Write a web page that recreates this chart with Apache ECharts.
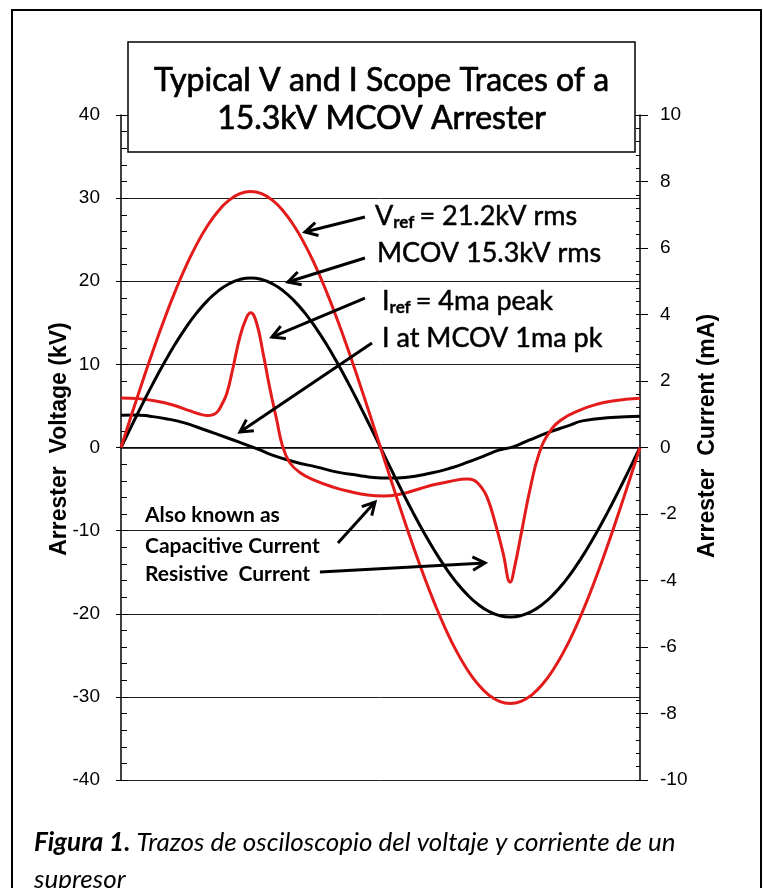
<!DOCTYPE html>
<html><head><meta charset="utf-8">
<script src="https://cdn.jsdelivr.net/npm/echarts@6/dist/echarts.min.js"></script>
<style>html,body{margin:0;padding:0;background:#fff}#c{width:763px;height:888px}</style>
</head><body><div id="c"></div>
<script>
// ---------- data ----------
// phase in degrees across one cycle
const vPhase = [0,7.5,15,22.5,30,37.5,45,52.5,60,67.5,75,82.5,90,97.5,105,112.5,120,127.5,135,142.5,150,157.5,165,172.5,180,187.5,195,202.5,210,217.5,225,232.5,240,247.5,255,262.5,270,277.5,285,292.5,300,307.5,315,322.5,330,337.5,345,352.5,360];
// Vref = 21.2 kV rms trace (kV, left axis)
const vRefKV = [0,4.02,7.97,11.79,15.4,18.75,21.78,24.44,26.67,28.46,29.75,30.54,30.8,30.54,29.75,28.46,26.67,24.44,21.78,18.75,15.4,11.79,7.97,4.02,0,-4.02,-7.97,-11.79,-15.4,-18.75,-21.78,-24.44,-26.67,-28.46,-29.75,-30.54,-30.8,-30.54,-29.75,-28.46,-26.67,-24.44,-21.78,-18.75,-15.4,-11.79,-7.97,-4.02,0];
// MCOV 15.3 kV rms trace (kV, left axis)
const mcovKV = [0,2.66,5.28,7.81,10.2,12.42,14.42,16.19,17.67,18.85,19.7,20.22,20.4,20.22,19.7,18.85,17.67,16.19,14.42,12.42,10.2,7.81,5.28,2.66,0,-2.66,-5.28,-7.81,-10.2,-12.42,-14.42,-16.19,-17.67,-18.85,-19.7,-20.22,-20.4,-20.22,-19.7,-18.85,-17.67,-16.19,-14.42,-12.42,-10.2,-7.81,-5.28,-2.66,0];
// Iref = 4 mA peak trace (mA, right axis)
const iRefPhase = [0,12,24,36,48,56,60,64,67,70,73.5,77.8,82.5,87,90,94,98.5,103,108,112,117,124,134,147,160,171,182,194,205,216,228,240,245,250,254,259,265,270,273,278,284,290,297,306,318,330,341,350,360];
const iRefMA   = [1.49,1.47,1.40,1.28,1.10,0.99,0.96,0.99,1.08,1.3,1.64,2.42,3.33,3.9,4.05,3.75,2.85,1.83,0.83,0.05,-0.45,-0.75,-0.98,-1.19,-1.34,-1.43,-1.46,-1.40,-1.27,-1.13,-1.02,-0.95,-0.99,-1.2,-1.5,-2.18,-3.17,-4.05,-3.6,-2.5,-1.2,-0.18,0.45,0.85,1.12,1.30,1.40,1.45,1.48];
// I at MCOV = 1 mA pk trace (mA, right axis)
const iMcovPhase = [0,10,20,32,44,55,68,82,95,105,120,136,150,165,175,186,197,216,230,240,252,262,272,283,297,310,320,340,360];
const iMcovMA    = [0.97,0.98,0.94,0.86,0.74,0.58,0.38,0.16,-0.05,-0.23,-0.43,-0.59,-0.74,-0.84,-0.9,-0.92,-0.9,-0.76,-0.6,-0.45,-0.25,-0.08,0.02,0.22,0.46,0.65,0.8,0.9,0.94];
// axis tick values
const voltTicks = [-40,-30,-20,-10,0,10,20,30,40];
const currTicks = [-10,-8,-6,-4,-2,0,2,4,6,8,10];

// texts
const titleLines = ['Typical V and I Scope Traces of a','15.3kV MCOV Arrester'];
const leftAxisTitle = 'Arrester  Voltage (kV)';
const rightAxisTitle = 'Arrester  Current (mA)';
const captionBold = 'Figura 1.';
const captionLine1 = ' Trazos de osciloscopio del voltaje y corriente de un';
const captionLine2 = 'supresor';

// annotation arrows in data space [phase deg, kV]: tail -> head
const arrows = [
  [[169.2,27.73],[127.6,25.92]],
  [[169.2,22.80],[115.8,19.91]],
  [[169.2,17.98],[104.7,13.29]],
  [[174.1,12.57],[82.5,1.86]],
  [[150.5,-11.49],[176.2,-6.56]],
  [[138.0,-14.98],[252.5,-13.89]]
];

const RED = '#e31b1b';
const BLACK = '#000';
const zip = (xs, ys) => xs.map((x, i) => [x, ys[i]]);

const chart = echarts.init(document.getElementById('c'), null, {renderer:'canvas'});

const tickFont = {fontFamily:'Liberation Sans', fontSize:19, color:'#000'};
const vStep = voltTicks[1]-voltTicks[0];
const cStep = currTicks[1]-currTicks[0];
const vMin = voltTicks[0], vMax = voltTicks[voltTicks.length-1];
const cMin = currTicks[0], cMax = currTicks[currTicks.length-1];

chart.setOption({
  animation:false,
  backgroundColor:'#fff',
  grid:{left:121, right:123, top:115, bottom:108, containLabel:false, outerBoundsMode:'none'},
  xAxis:{type:'value', min:0, max:360, axisLine:{show:true, lineStyle:{color:'#000', width:1.5}},
    axisTick:{show:false}, axisLabel:{show:false}, splitLine:{show:false}},
  yAxis:[
    {type:'value', position:'left', min:vMin, max:vMax, interval:vStep,
      axisLine:{show:true, lineStyle:{color:'#000', width:1.5}},
      axisTick:{show:true, inside:false, length:5, lineStyle:{color:'#000', width:1}},
      axisLabel:Object.assign({margin:21}, tickFont),
      splitLine:{show:true, lineStyle:{color:'#222', width:1}}},
    {type:'value', position:'left', offset:0, min:vMin, max:vMax, interval:vStep,
      axisLine:{show:false}, axisLabel:{show:false}, splitLine:{show:false},
      axisTick:{show:true, inside:true, length:7, lineStyle:{color:'#000', width:1}},
      minorTick:{show:true, splitNumber:5, length:6, lineStyle:{color:'#000', width:1}}},
    {type:'value', position:'right', min:cMin, max:cMax, interval:cStep,
      axisLine:{show:true, lineStyle:{color:'#000', width:1.5}},
      axisTick:{show:true, inside:false, length:8, lineStyle:{color:'#000', width:1}},
      axisLabel:Object.assign({margin:20}, tickFont),
      splitLine:{show:false}},
    {type:'value', position:'right', offset:0, min:cMin, max:cMax, interval:cStep,
      axisLine:{show:false}, axisLabel:{show:false}, splitLine:{show:false},
      axisTick:{show:true, inside:true, length:4, lineStyle:{color:'#000', width:1}},
      minorTick:{show:true, splitNumber:5, length:4, lineStyle:{color:'#000', width:1}}}
  ],
  series:[
    {type:'line', name:'I at MCOV', yAxisIndex:2, data:zip(iMcovPhase,iMcovMA), smooth:0.5, showSymbol:false,
      lineStyle:{color:BLACK, width:3}, z:3},
    {type:'line', name:'Iref', yAxisIndex:2, data:zip(iRefPhase,iRefMA), smooth:0.45, showSymbol:false,
      lineStyle:{color:RED, width:3}, z:4},
    {type:'line', name:'MCOV', yAxisIndex:0, data:zip(vPhase,mcovKV), smooth:true, showSymbol:false,
      lineStyle:{color:BLACK, width:3}, z:5},
    {type:'line', name:'Vref', yAxisIndex:0, data:zip(vPhase,vRefKV), smooth:true, showSymbol:false,
      lineStyle:{color:RED, width:3}, z:6}
  ]
});

// ---------- annotations ----------
const ctx = document.createElement('canvas').getContext('2d');
function textW(txt, font){ ctx.font = font; return ctx.measureText(txt).width; }
const g = [];
function txt(x, y, text, opt){
  opt = opt || {};
  const el = {type:'text', x:x, y:y, z:opt.z||60, silent:true, rotation:opt.rotation||0,
    style:{text:text, fill:'#000', font:opt.font, textAlign:opt.align||'left', textVerticalAlign:'middle'}};
  if (opt.thick) { el.style.stroke = '#000'; el.style.lineWidth = opt.thick; }
  g.push(el);
}
// frame
g.push({type:'rect', z:1, silent:true, shape:{x:12,y:10,width:749,height:930}, style:{fill:'transparent', stroke:'#000', lineWidth:2}});
// title box
g.push({type:'rect', z:50, silent:true, shape:{x:128,y:42,width:507,height:110}, style:{fill:'#fff', stroke:'#000', lineWidth:1.5}});
txt(381.5, 81, titleLines[0], {font:'32px Lato', align:'center', z:51, thick:0.7});
txt(381.5, 119, titleLines[1], {font:'32px Lato', align:'center', z:51, thick:0.7});

// annotation texts with subscripts
const aFont = '27px Lato', sFont = 'bold 17px Lato';
function subLabel(x, y, main, sub, rest){
  txt(x, y, main, {font:aFont, thick:0.5});
  const w1 = textW(main, aFont);
  txt(x + w1, y + 7, sub, {font:sFont, thick:0.3});
  const w2 = textW(sub, sFont);
  txt(x + w1 + w2 + 5, y, rest, {font:aFont, thick:0.5});
}
subLabel(375, 216, 'V', 'ref', '= 21.2kV rms');
txt(377, 253, 'MCOV 15.3kV rms', {font:aFont, thick:0.5});
subLabel(382, 301, 'I', 'ref', '= 4ma peak');
txt(382, 338, 'I at MCOV 1ma pk', {font:aFont, thick:0.5});
const bFont = 'bold 21px Lato';
txt(145, 515, 'Also known as', {font:bFont});
txt(145, 546, 'Capacitive Current', {font:bFont});
txt(145, 574, 'Resistive  Current', {font:bFont});

// axis titles
txt(60, 439, leftAxisTitle, {font:'bold 23px "Liberation Sans"', align:'center', rotation:Math.PI/2});
txt(708, 436, rightAxisTitle, {font:'bold 23px "Liberation Sans"', align:'center', rotation:Math.PI/2});

// caption
g.push({type:'text', x:34, y:843, z:60, silent:true, style:{
  text:'{b|'+captionBold+'}{i|'+captionLine1+'}', textVerticalAlign:'middle', fill:'#000',
  rich:{b:{fontFamily:'Lato', fontStyle:'italic', fontWeight:'bold', fontSize:26, fill:'#000'},
        i:{fontFamily:'Lato', fontStyle:'italic', fontSize:26, fill:'#000'}}}});
txt(34, 880, captionLine2, {font:'italic 26px Lato'});

// arrows via the chart's scales
arrows.forEach(function(a){
  const p0 = chart.convertToPixel({xAxisIndex:0, yAxisIndex:0}, a[0]);
  const p1 = chart.convertToPixel({xAxisIndex:0, yAxisIndex:0}, a[1]);
  const ang = Math.atan2(p1[1]-p0[1], p1[0]-p0[0]);
  const L = 14, s = 0.5;
  g.push({type:'polyline', z:40, silent:true, shape:{points:[p0,p1]}, style:{stroke:'#000', lineWidth:3, fill:null}});
  g.push({type:'polyline', z:40, silent:true, shape:{points:[
    [p1[0]+L*Math.cos(ang+Math.PI-s), p1[1]+L*Math.sin(ang+Math.PI-s)], p1,
    [p1[0]+L*Math.cos(ang+Math.PI+s), p1[1]+L*Math.sin(ang+Math.PI+s)]]},
    style:{stroke:'#000', lineWidth:3, fill:null, lineJoin:'miter'}});
});

chart.setOption({graphic:g});
</script>
</body></html>
